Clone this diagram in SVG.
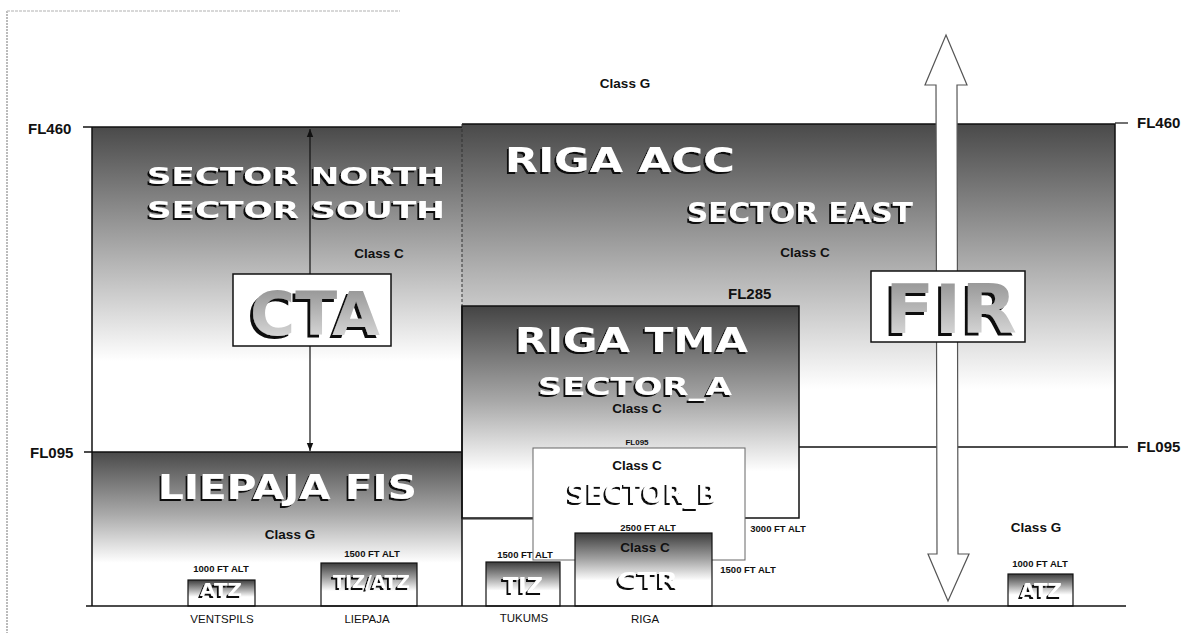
<svg xmlns="http://www.w3.org/2000/svg" width="1200" height="633" viewBox="0 0 1200 633">
<defs>
<style>
.lbl{font-family:"Liberation Sans",Arial,sans-serif;font-weight:bold;fill:#111}
.fl{font-size:15px}
.cls{font-size:13.5px;text-anchor:middle}
.alt{font-size:9.5px;text-anchor:middle}
.place{font-size:11.5px;font-weight:normal;text-anchor:middle}
.big{font-family:"DejaVu Sans","Liberation Sans",sans-serif;font-weight:bold;fill:#fff;filter:url(#sh)}
.huge{font-family:"DejaVu Sans","Liberation Sans",sans-serif;font-weight:bold;fill:url(#gTxt);filter:url(#sh3)}
.box{fill:#fff;stroke:#111;stroke-width:1.5}
.edge{fill:none;stroke:#111;stroke-width:1.5}
.thin{fill:none;stroke:#222;stroke-width:1.2}
</style>
<filter id="sh" x="-10%" y="-30%" width="120%" height="160%"><feDropShadow dx="-2" dy="2" stdDeviation="0.4" flood-color="#111" flood-opacity="1"/></filter>
<filter id="sh3" x="-10%" y="-20%" width="120%" height="150%"><feDropShadow dx="-3" dy="3" stdDeviation="0.3" flood-color="#111" flood-opacity="1"/></filter>
<linearGradient id="gCTA" x1="0" y1="0" x2="0" y2="1"><stop offset="0" stop-color="#4a4a4a"/><stop offset="0.4" stop-color="#b0b0b0"/><stop offset="0.72" stop-color="#fff"/></linearGradient>
<linearGradient id="gACC" x1="0" y1="0" x2="0" y2="1"><stop offset="0" stop-color="#4a4a4a"/><stop offset="0.45" stop-color="#b0b0b0"/><stop offset="0.82" stop-color="#fff"/></linearGradient>
<linearGradient id="gFIS" x1="0" y1="0" x2="0" y2="1"><stop offset="0" stop-color="#4a4a4a"/><stop offset="0.4" stop-color="#a8a8a8"/><stop offset="0.72" stop-color="#fff"/></linearGradient>
<linearGradient id="gTMA" x1="0" y1="0" x2="0" y2="1"><stop offset="0" stop-color="#444"/><stop offset="0.45" stop-color="#a8a8a8"/><stop offset="0.78" stop-color="#fff"/></linearGradient>
<linearGradient id="gSmall" x1="0" y1="0" x2="0" y2="1"><stop offset="0" stop-color="#3c3c3c"/><stop offset="0.35" stop-color="#a0a0a0"/><stop offset="0.65" stop-color="#fff"/></linearGradient>
<linearGradient id="gTxt" x1="0" y1="0" x2="0" y2="1"><stop offset="0" stop-color="#8a8a8a"/><stop offset="1" stop-color="#e6e6e6"/></linearGradient>
<marker id="ah" viewBox="0 0 10 10" refX="10" refY="5" markerWidth="7" markerHeight="7" orient="auto-start-reverse"><path d="M0,1 L10,5 L0,9 Z" fill="#111"/></marker>
</defs>
<rect width="1200" height="633" fill="#fff"/>
<g id="scan-border">
<line x1="7" y1="11" x2="7" y2="633" stroke="#bbb" stroke-width="2" stroke-dasharray="2 1"/>
<line x1="7" y1="11" x2="400" y2="11" stroke="#ccc" stroke-width="1.5" stroke-dasharray="3 1"/>
</g>
<text class="lbl cls" x="625" y="88">Class G</text>

<g id="cta-region">
<rect x="92" y="127" width="370" height="325" fill="url(#gCTA)"/>
<line class="edge" x1="83" y1="127" x2="462" y2="127"/>
<text class="lbl fl" x="28" y="134" font-size="16">FL460</text>
<text class="big" x="147" y="184" font-size="23" textLength="298" lengthAdjust="spacingAndGlyphs">SECTOR NORTH</text>
<text class="big" x="147" y="218" font-size="23" textLength="298" lengthAdjust="spacingAndGlyphs">SECTOR SOUTH</text>
<text class="lbl cls" x="379" y="258">Class C</text>
</g>

<g id="acc-region">
<rect x="462" y="124" width="653" height="323" fill="url(#gACC)"/>
<polyline class="edge" points="462,124 1115,124 1115,447"/>
<line x1="1115" y1="123" x2="1128" y2="123" stroke="#111" stroke-width="1.2"/>
<line x1="462" y1="124" x2="462" y2="306" stroke="#333" stroke-width="1" stroke-dasharray="3 2"/>
<text class="lbl fl" x="1137" y="128" font-size="16">FL460</text>
<text class="big" x="505" y="172" font-size="34" textLength="230" lengthAdjust="spacingAndGlyphs">RIGA ACC</text>
<text class="big" x="687" y="222" font-size="26" textLength="226" lengthAdjust="spacingAndGlyphs">SECTOR EAST</text>
<text class="lbl cls" x="805" y="257">Class C</text>
<text class="lbl fl" x="728" y="299">FL285</text>
</g>

<g id="liepaja-fis">
<rect x="92" y="452" width="370" height="154" fill="url(#gFIS)"/>
<line class="edge" x1="84" y1="452" x2="462" y2="452"/>
<line class="edge" x1="92" y1="127" x2="92" y2="606"/>
<text class="lbl fl" x="30" y="458" font-size="16">FL095</text>
<text class="big" x="158" y="499" font-size="33" textLength="259" lengthAdjust="spacingAndGlyphs">LIEPAJA FIS</text>
<text class="lbl cls" x="290" y="539">Class G</text>
</g>

<g id="riga-tma">
<rect x="462" y="306" width="337" height="212" fill="url(#gTMA)" stroke="#111" stroke-width="1.5"/>
<line class="edge" x1="462" y1="306" x2="462" y2="606"/>
<line class="thin" x1="462" y1="519" x2="533" y2="519"/>
<line class="edge" x1="799" y1="447" x2="1128" y2="447"/>
<text class="lbl fl" x="1137" y="452" font-size="16">FL095</text>
<text class="big" x="515" y="352" font-size="33" textLength="233" lengthAdjust="spacingAndGlyphs">RIGA TMA</text>
<text class="big" x="538" y="395" font-size="25" textLength="194" lengthAdjust="spacingAndGlyphs">SECTOR_A</text>
<text class="lbl cls" x="637" y="413">Class C</text>
<text class="lbl" x="637" y="445" font-size="8" text-anchor="middle">FL095</text>
<text class="lbl alt" x="778" y="532">3000 FT ALT</text>
</g>

<g id="sector-b">
<rect x="533" y="448" width="212" height="112" fill="#fff" stroke="#666" stroke-width="1"/>
<text class="lbl cls" x="637" y="470">Class C</text>
<text class="big" x="567" y="503" font-size="26" textLength="151" lengthAdjust="spacingAndGlyphs">SECTOR_B</text>
<text class="lbl alt" x="748" y="573">1500 FT ALT</text>
</g>

<g id="riga-ctr">
<rect x="575" y="533" width="137" height="73" fill="url(#gSmall)" stroke="#111" stroke-width="1.2"/>
<text class="lbl alt" x="648" y="531">2500 FT ALT</text>
<text class="lbl cls" x="645" y="552">Class C</text>
<text class="big" x="617" y="588" font-size="21" textLength="61" lengthAdjust="spacingAndGlyphs">CTR</text>
<text class="lbl place" x="645" y="623">RIGA</text>
</g>

<g id="tukums-tiz">
<rect x="486" y="562" width="74" height="44" fill="url(#gSmall)" stroke="#111" stroke-width="1.2"/>
<text class="lbl alt" x="525" y="558">1500 FT ALT</text>
<text class="big" x="503" y="593" font-size="22" textLength="40" lengthAdjust="spacingAndGlyphs">TIZ</text>
<text class="lbl place" x="524" y="622">TUKUMS</text>
</g>

<g id="ventspils-atz">
<rect x="188" y="580" width="67" height="26" fill="url(#gSmall)" stroke="#111" stroke-width="1.2"/>
<text class="lbl alt" x="221" y="572">1000 FT ALT</text>
<text class="big" x="200" y="596" font-size="18" textLength="42" lengthAdjust="spacingAndGlyphs">ATZ</text>
<text class="lbl place" x="222" y="623">VENTSPILS</text>
</g>

<g id="liepaja-tiz-atz">
<rect x="321" y="563" width="96" height="43" fill="url(#gSmall)" stroke="#111" stroke-width="1.2"/>
<text class="lbl alt" x="372" y="557">1500 FT ALT</text>
<text class="big" x="333" y="588" font-size="17" textLength="77" lengthAdjust="spacingAndGlyphs">TIZ/ATZ</text>
<text class="lbl place" x="367" y="623">LIEPAJA</text>
</g>

<g id="east-atz">
<rect x="1008" y="574" width="65" height="32" fill="url(#gSmall)" stroke="#111" stroke-width="1.2"/>
<text class="lbl cls" x="1036" y="532">Class G</text>
<text class="lbl alt" x="1040" y="567">1000 FT ALT</text>
<text class="big" x="1020" y="597" font-size="19" textLength="42" lengthAdjust="spacingAndGlyphs">ATZ</text>
</g>

<g id="ground">
<line class="edge" x1="86" y1="606" x2="1126" y2="606"/>
</g>

<g id="connectors">
<line x1="310" y1="129" x2="310" y2="274" stroke="#111" stroke-width="1.2" marker-start="url(#ah)"/>
<line x1="310" y1="346" x2="310" y2="451" stroke="#111" stroke-width="1.2" marker-end="url(#ah)"/>
<polygon points="946,35 967,85 957,85 958,554 969,554 948,601 928,554 937,554 936,85 925,85" fill="#fff" stroke="#555" stroke-width="1.2"/>
</g>

<g id="cta-box">
<rect class="box" x="233" y="274" width="158" height="72"/>
<text class="huge" x="250" y="335" font-size="60" textLength="130" lengthAdjust="spacingAndGlyphs">CTA</text>
</g>

<g id="fir-box">
<rect class="box" x="871" y="271" width="154" height="71"/>
<text class="huge" x="885" y="333" font-size="68" textLength="132" lengthAdjust="spacingAndGlyphs">FIR</text>
</g>
</svg>
